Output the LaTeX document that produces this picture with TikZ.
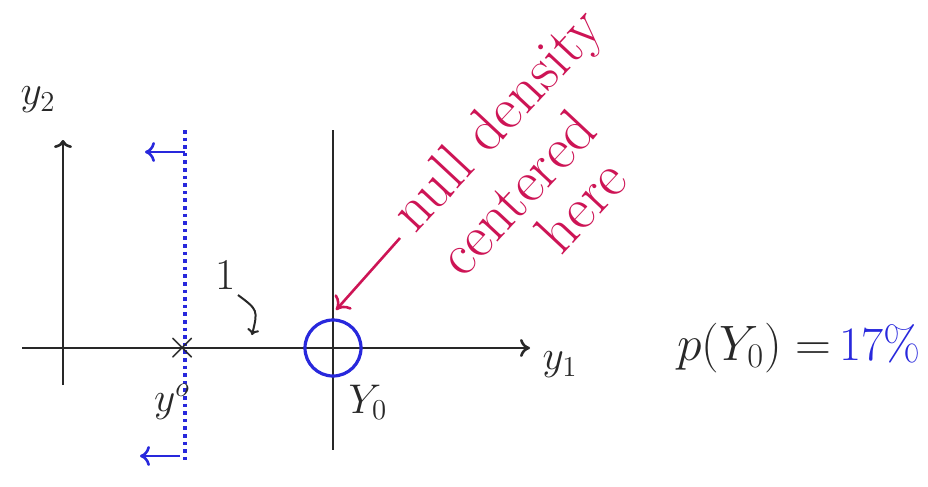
\documentclass[tikz,border=0pt]{standalone}
\usetikzlibrary{arrows.meta}
\definecolor{ink}{RGB}{40,40,40}
\definecolor{pen}{RGB}{40,40,220}
\definecolor{redpen}{RGB}{205,20,85}
\begin{document}
\begin{tikzpicture}[x=0.5pt,y=-0.5pt,
  axis/.style={ink,line width=1.3pt},
  bluedot/.style={pen,line width=1.8pt,dotted},
  lbl/.style={ink,font=\fontsize{22}{24}\selectfont},
  redtxt/.style={redpen,font=\fontsize{30}{28}\selectfont,rotate=47,align=left,inner sep=0pt}]
\useasboundingbox (0,0) rectangle (928,487);
% axes
\coordinate (hl) at (22,348);
\coordinate (hr) at (530,348);
\coordinate (vb) at (63,385);
\coordinate (vt) at (63,140);
\draw[axis,-{To[length=5pt,width=9pt]}] (hl) -- (hr);
\draw[axis,-{To[length=4pt,width=9pt]}] (vb) -- (vt);
\node[lbl] (ytwo) at (38,100) {$y_2$};
\node[lbl] (yone) at (560,365) {$y_1$};
% vertical line at Y0
\coordinate (zt) at (333,130);
\coordinate (zb) at (333,450);
\draw[axis] (zt) -- (zb);
% blue dotted line
\coordinate (dt) at (185,130);
\coordinate (db) at (185,460);
\draw[bluedot] (dt) -- (db);
\coordinate (a1s) at (185,152);
\coordinate (a1e) at (145,152);
\coordinate (a2s) at (180,456);
\coordinate (a2e) at (140,456);
\draw[pen,line width=1.3pt,-{To[length=5pt,width=10pt]}] (a1s) -- (a1e);
\draw[pen,line width=1.3pt,-{To[length=5pt,width=10pt]}] (a2s) -- (a2e);
% x mark and y^o
\node[lbl] (xm) at (183,348) {$\times$};
\node[lbl] (yo) at (172,402) {$y^{o}$};
% label 1 with curved arrow
\node[lbl] (one) at (226,275) {1};
\coordinate (c1) at (238,295);
\coordinate (c2) at (252,335);
\draw[ink,line width=1pt,-{To[length=3pt,width=6pt]}] (c1) .. controls (258,310) .. (c2);
% blue circle
\node[draw=pen,line width=1.6pt,circle,minimum size=28pt,inner sep=0pt] (circ) at (333,348) {};
\node[lbl] (Y0) at (368,402) {$Y_0$};
% red annotation
\node[redtxt] (note) at (540,160) {null density\\[5pt]centered\\\hspace*{42pt}here};
\coordinate (ra) at (400,238);
\coordinate (rb) at (336,310);
\draw[redpen,line width=1.3pt,-{To[length=6pt,width=11pt]}] (ra) -- (rb);
% probability
\node[lbl,anchor=west,font=\fontsize{24}{26}\selectfont] (pY) at (670,348) {$p(Y_0)=$\,\textcolor{pen}{17\%}};
\end{tikzpicture}
\end{document}
